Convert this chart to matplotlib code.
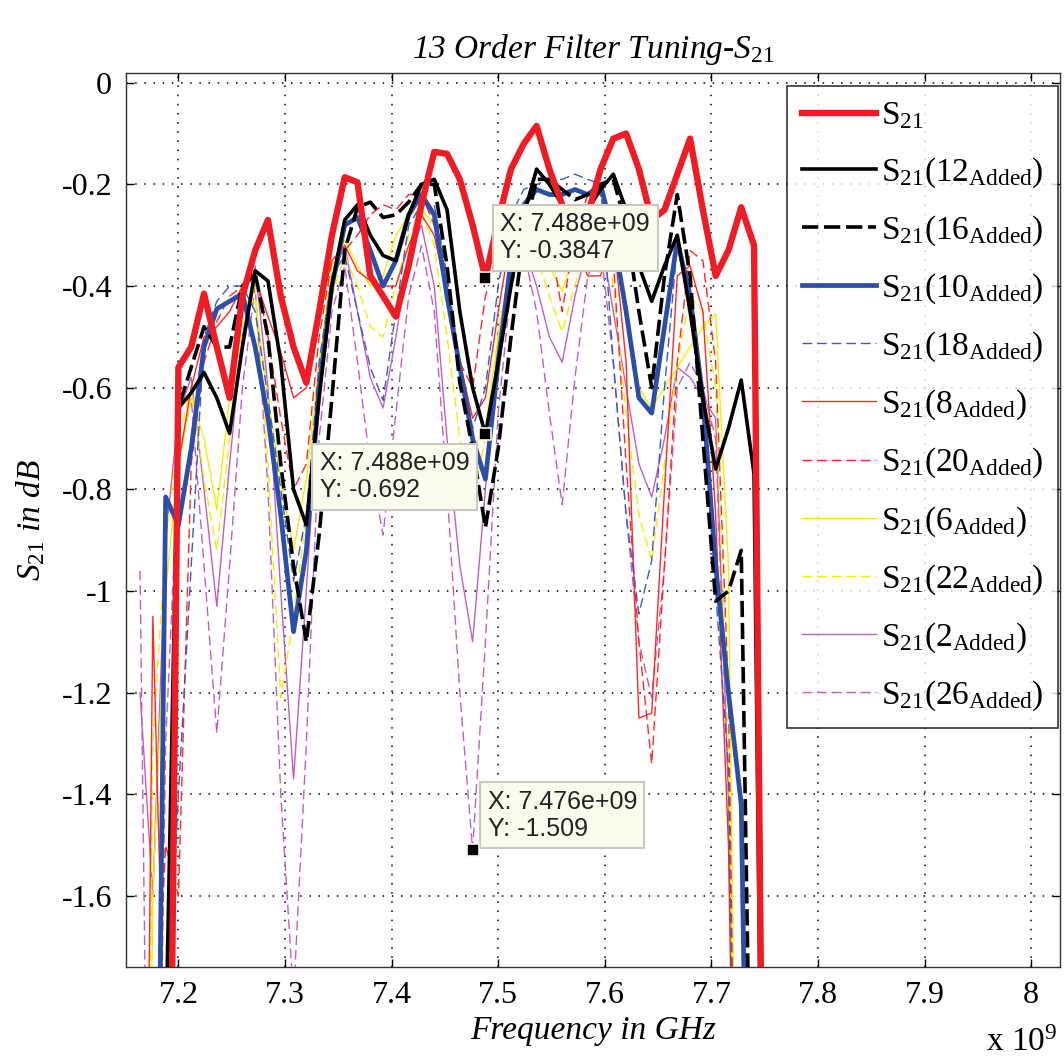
import matplotlib
matplotlib.use('Agg')
import matplotlib.pyplot as plt
import numpy as np

plt.rcParams['font.family'] = ['Liberation Serif', 'DejaVu Serif']
plt.rcParams['axes.unicode_minus'] = False
plt.rcParams['mathtext.fontset'] = 'custom'
plt.rcParams['mathtext.rm'] = 'Liberation Serif'
plt.rcParams['mathtext.it'] = 'Liberation Serif:italic'

# sweep points (GHz)
freq_ghz = [7.164, 7.176, 7.188, 7.200, 7.212, 7.224, 7.236, 7.248, 7.260, 7.272,
            7.284, 7.296, 7.308, 7.320, 7.332, 7.344, 7.356, 7.368, 7.380, 7.392,
            7.404, 7.416, 7.428, 7.440, 7.452, 7.464, 7.476, 7.488, 7.500, 7.512,
            7.524, 7.536, 7.548, 7.560, 7.572, 7.584, 7.596, 7.608, 7.620, 7.632,
            7.644, 7.656, 7.668, 7.680, 7.692, 7.704, 7.716, 7.728, 7.740, 7.752]

s21 = [-3.5, -3.2, -3.0, -0.56, -0.52, -0.415, -0.52, -0.62, -0.42, -0.33,
       -0.27, -0.42, -0.52, -0.59, -0.45, -0.30, -0.186, -0.196, -0.38, -0.42,
       -0.46, -0.36, -0.24, -0.136, -0.14, -0.19, -0.28, -0.3847, -0.27, -0.17,
       -0.12, -0.085, -0.17, -0.24, -0.30, -0.26, -0.17, -0.11, -0.10, -0.17,
       -0.27, -0.25, -0.18, -0.11, -0.25, -0.38, -0.33, -0.245, -0.32, -3.0]

s21_12 = [-3.5, -3.2, -1.9, -0.64, -0.61, -0.57, -0.62, -0.69, -0.52, -0.37,
          -0.39, -0.55, -0.80, -0.87, -0.62, -0.40, -0.27, -0.24, -0.30, -0.34,
          -0.35, -0.26, -0.20, -0.19, -0.25, -0.45, -0.60, -0.692, -0.55, -0.40,
          -0.26, -0.17, -0.20, -0.24, -0.27, -0.25, -0.21, -0.18, -0.25, -0.36,
          -0.43, -0.36, -0.30, -0.45, -0.62, -0.76, -0.68, -0.585, -0.77, -3.0]

s21_16 = [-3.5, -3.2, -2.2, -0.64, -0.56, -0.48, -0.52, -0.52, -0.40, -0.375,
          -0.50, -0.75, -0.95, -1.10, -0.89, -0.62, -0.33, -0.245, -0.235, -0.265,
          -0.26, -0.235, -0.20, -0.20, -0.36, -0.59, -0.72, -0.875, -0.72, -0.50,
          -0.30, -0.19, -0.19, -0.21, -0.23, -0.22, -0.20, -0.19, -0.28, -0.45,
          -0.60, -0.38, -0.22, -0.38, -0.70, -1.02, -1.00, -0.92, -2.5, -3.0]

s21_10 = [-3.5, -3.0, -0.815, -0.87, -0.72, -0.52, -0.445, -0.43, -0.415, -0.52,
          -0.66, -0.85, -1.08, -0.92, -0.60, -0.40, -0.28, -0.265, -0.33, -0.40,
          -0.35, -0.26, -0.22, -0.26, -0.42, -0.56, -0.70, -0.78, -0.55, -0.35,
          -0.24, -0.21, -0.22, -0.22, -0.21, -0.22, -0.20, -0.30, -0.45, -0.62,
          -0.65, -0.48, -0.31, -0.42, -0.62, -0.95, -1.20, -1.42, -3.0, -3.5]

s21_18 = [-3.5, -3.0, -1.9, -1.40, -0.95, -0.50, -0.43, -0.40, -0.40, -0.45,
          -0.62, -0.80, -0.98, -0.85, -0.55, -0.38, -0.34, -0.45, -0.56, -0.625,
          -0.45, -0.28, -0.24, -0.24, -0.38, -0.55, -0.68, -0.60, -0.40, -0.26,
          -0.21, -0.20, -0.19, -0.19, -0.18, -0.19, -0.20, -0.55, -0.85, -1.045,
          -0.94, -0.60, -0.32, -0.40, -0.65, -1.00, -1.35, -3.0, -3.5, -3.5]

s21_8 = [-3.5, -1.05, -2.0, -0.75, -0.60, -0.50, -0.48, -0.45, -0.40, -0.385,
         -0.46, -0.53, -0.62, -0.60, -0.45, -0.35, -0.32, -0.37, -0.39, -0.40,
         -0.40, -0.32, -0.26, -0.30, -0.42, -0.55, -0.66, -0.62, -0.45, -0.30,
         -0.24, -0.24, -0.26, -0.30, -0.32, -0.38, -0.38, -0.30, -0.55, -1.25,
         -1.24, -0.80, -0.38, -0.36, -0.45, -0.85, -1.50, -3.0, -3.5, -3.5]

s21_20 = [-3.5, -2.0, -1.5, -1.6, -0.75, -0.55, -0.47, -0.42, -0.40, -0.37,
          -0.50, -0.66, -0.80, -0.75, -0.50, -0.35, -0.33, -0.30, -0.26, -0.24,
          -0.25, -0.22, -0.22, -0.28, -0.40, -0.55, -0.60, -0.42, -0.33, -0.27,
          -0.24, -0.25, -0.30, -0.45, -0.30, -0.22, -0.22, -0.35, -0.75, -1.10,
          -1.34, -0.95, -0.55, -0.33, -0.35, -0.55, -1.20, -3.0, -3.5, -3.5]

s21_6 = [-3.5, -1.6, -1.0, -0.75, -0.62, -0.70, -0.84, -0.62, -0.43, -0.43,
         -0.62, -0.78, -0.92, -0.78, -0.55, -0.36, -0.31, -0.36, -0.40, -0.38,
         -0.30, -0.26, -0.25, -0.28, -0.40, -0.58, -0.72, -0.68, -0.50, -0.35,
         -0.27, -0.30, -0.36, -0.41, -0.33, -0.27, -0.25, -0.30, -0.45, -0.60,
         -0.64, -0.60, -0.56, -0.52, -0.48, -0.455, -0.95, -3.0, -3.5, -3.5]

s21_22 = [-3.5, -1.3, -0.90, -0.70, -0.60, -0.78, -0.92, -0.70, -0.48, -0.40,
          -0.75, -1.21, -1.05, -0.85, -0.60, -0.42, -0.34, -0.40, -0.48, -0.50,
          -0.40, -0.30, -0.26, -0.32, -0.50, -0.70, -0.82, -0.70, -0.50, -0.35,
          -0.30, -0.34, -0.42, -0.49, -0.40, -0.30, -0.27, -0.40, -0.65, -0.85,
          -0.94, -0.75, -0.55, -0.42, -0.45, -0.60, -1.30, -3.0, -3.5, -3.5]

s21_2 = [-1.2, -1.6, -0.90, -0.65, -0.58, -0.80, -1.03, -0.75, -0.50, -0.36,
         -0.60, -1.00, -1.37, -1.00, -0.60, -0.38, -0.32, -0.45, -0.58, -0.64,
         -0.50, -0.34, -0.28, -0.40, -0.70, -0.95, -1.10, -0.80, -0.50, -0.35,
         -0.32, -0.40, -0.50, -0.55, -0.42, -0.32, -0.30, -0.45, -0.60, -0.75,
         -0.815, -0.70, -0.56, -0.58, -0.62, -0.66, -1.40, -3.0, -3.5, -3.5]

s21_26 = [-0.96, -3.0, -1.30, -0.75, -0.62, -0.95, -1.28, -0.95, -0.60, -0.40,
          -0.80, -1.40, -1.80, -1.30, -0.70, -0.45, -0.36, -0.55, -0.75, -0.89,
          -0.65, -0.42, -0.32, -0.45, -0.80, -1.20, -1.509, -1.10, -0.65, -0.40,
          -0.33, -0.45, -0.65, -0.83, -0.58, -0.38, -0.32, -0.55, -0.85, -1.10,
          -1.21, -0.95, -0.60, -0.55, -0.60, -0.70, -1.40, -3.0, -3.5, -3.5]

labels = [r'S$_{21}$', r'S$_{21}$(12$_{\mathrm{Added}}$)', r'S$_{21}$(16$_{\mathrm{Added}}$)',
          r'S$_{21}$(10$_{\mathrm{Added}}$)', r'S$_{21}$(18$_{\mathrm{Added}}$)',
          r'S$_{21}$(8$_{\mathrm{Added}}$)', r'S$_{21}$(20$_{\mathrm{Added}}$)',
          r'S$_{21}$(6$_{\mathrm{Added}}$)', r'S$_{21}$(22$_{\mathrm{Added}}$)',
          r'S$_{21}$(2$_{\mathrm{Added}}$)', r'S$_{21}$(26$_{\mathrm{Added}}$)']

curves = [s21, s21_12, s21_16, s21_10, s21_18, s21_8, s21_20, s21_6, s21_22, s21_2, s21_26]
colors = ['#EE1C24', 'k', 'k', '#2B4EA6', '#3A5CC0', '#FF2828', '#FF2828',
          '#F2EE00', '#F2EE00', '#C25EC2', '#C25EC2']
widths = [4.6, 2.6, 2.6, 3.4, 1.0, 1.0, 1.0, 1.0, 1.0, 1.0, 1.0]
styles = ['-', '-', (0, (4.5, 1.6)), '-', (0, (7, 3.5)), '-', (0, (7, 3.5)),
          '-', (0, (7, 3.5)), '-', (0, (7, 3.5))]

freq = np.array(freq_ghz) * 1e9

fig = plt.figure(figsize=(10.64, 10.61), dpi=100)
ax = fig.add_axes([0.1184, 0.0889, 0.8778, 0.8420])

# plot in reverse so the main S21 trace ends up on top
for i in range(len(curves) - 1, -1, -1):
    ax.plot(freq, curves[i], color=colors[i], lw=widths[i], linestyle=styles[i],
            label=labels[i], zorder=3 + (len(curves) - i) * 0.01)

ax.set_xlim(7.1508e9, 8.027e9)
ax.set_ylim(-1.739, 0.0185)

xt = [7.2, 7.3, 7.4, 7.5, 7.6, 7.7, 7.8, 7.9, 8.0]
ax.set_xticks(np.array(xt) * 1e9)
ax.set_xticklabels(['%g' % v for v in xt])
yt = [0, -0.2, -0.4, -0.6, -0.8, -1.0, -1.2, -1.4, -1.6]
ax.set_yticks(yt)
ax.set_yticklabels(['%g' % v for v in yt])
ax.tick_params(direction='in', length=6, width=1, top=True, right=True,
               labelsize=23, pad=10)
for sp in ax.spines.values():
    sp.set_linewidth(1.0)
    sp.set_color('#333333')

ax.grid(True, linestyle=(0, (1, 5)), color='k', lw=1.1)
ax.set_axisbelow(True)

ax.set_title(r'13 Order Filter Tuning-S$_{\mathit{21}}$', fontsize=24, style='italic', pad=11)
ax.set_xlabel('Frequency in GHz', fontsize=24, style='italic', labelpad=4)
ax.set_ylabel(r'S$_{\mathit{21}}$ in dB', fontsize=24, style='italic', labelpad=10)
fig.text(0.994, 0.003, r'x 10$^9$', fontsize=24, ha='right', va='bottom')

handles, labs = ax.get_legend_handles_labels()
leg = ax.legend(handles[::-1], labs[::-1], loc='upper right', bbox_to_anchor=(0.998, 0.986),
                borderaxespad=0, fontsize=24, frameon=True, fancybox=False,
                edgecolor='k', handlelength=2.2, handletextpad=0.15,
                labelspacing=0.71, borderpad=0.45)
leg.get_frame().set_linewidth(1.2)
leg.set_zorder(10)

# data tips
tips = [(s21, 27, (15, 15), 'left', 'bottom'),
        (s21_12, 27, (-16, -17), 'right', 'top'),
        (s21_26, 26, (15, 9), 'left', 'bottom')]
for series, idx, off, ha, va in tips:
    x = freq[idx]
    y = series[idx]
    ax.plot(x, y, 's', color='k', ms=9, mec='#F8F8E8', mew=1.2, zorder=12)
    ax.annotate('X: %.4g\nY: %.4g' % (x, y), xy=(x, y), xytext=off,
                textcoords='offset pixels', ha=ha, va=va, multialignment='left',
                fontsize=18, family='Liberation Sans', color='#222222', linespacing=1.15,
                bbox=dict(boxstyle='square,pad=0.3', fc='#FCFCEE', ec='#C8C8C0', lw=1.5),
                zorder=11)

fig.savefig('out.png', dpi=100)
